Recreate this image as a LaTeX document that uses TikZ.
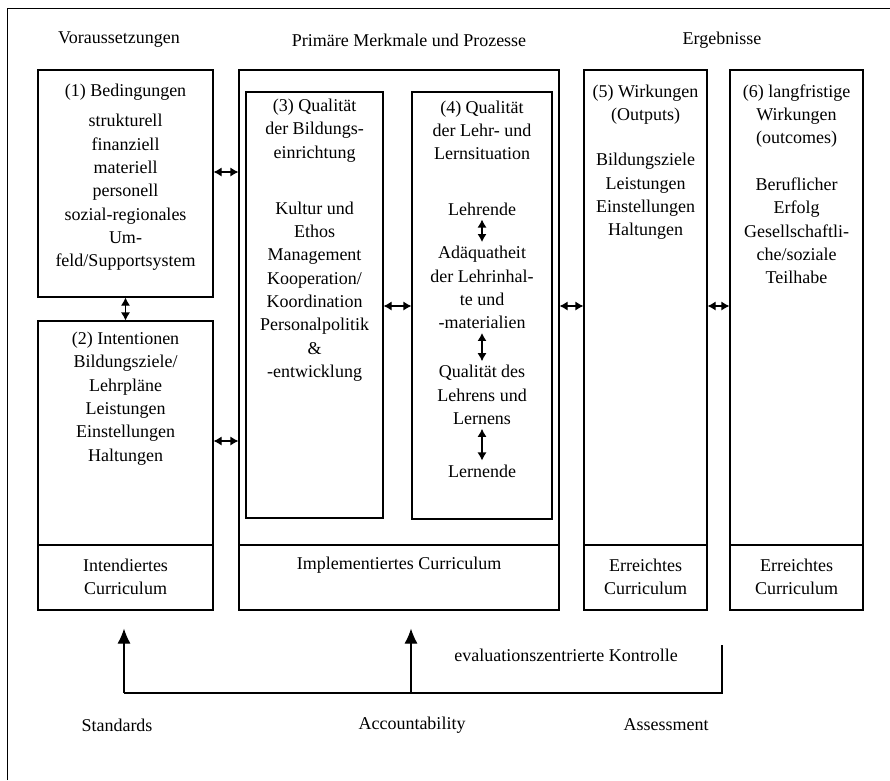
\documentclass[tikz,border=0pt]{standalone}
\usepackage{fontspec}
\setmainfont{Liberation Serif}
\usetikzlibrary{arrows.meta}
\begin{document}
\begin{tikzpicture}[x=1pt,y=-1pt,
  box/.style={draw, line width=1.1pt, inner sep=0pt},
  txt/.style={font=\fontsize{18}{23.3}\selectfont, align=center, inner sep=0pt},
  dbl/.style={{Latex[length=8pt,width=9pt]}-{Latex[length=8pt,width=9pt]}, line width=1.1pt},
  up/.style={-{Latex[length=15pt,width=13pt]}, line width=1.1pt},
  ln/.style={line width=1.1pt}]
\useasboundingbox (0,0) rectangle (890,780);
\coordinate (fa) at (7,780);
\coordinate (fb) at (7,8);
\coordinate (fc) at (890,8);
\draw[line width=1pt] (fa) -- (fb) -- (fc);

% headers
\node[txt] (h1) at (119,40) {Voraussetzungen};
\node[txt] (h2) at (409,40) {Primäre Merkmale und Prozesse};
\node[txt] (h3) at (722,40) {Ergebnisse};

% boxes
\node[box, minimum width=175pt, minimum height=227pt] (b1) at (125.5,183.5) {};
\node[box, minimum width=175pt, minimum height=289pt] (b2) at (125.5,465.5) {};
\node[box, minimum width=320pt, minimum height=540pt] (m) at (399,340) {};
\node[box, minimum width=137pt, minimum height=426pt] (b3) at (314.5,305) {};
\node[box, minimum width=140pt, minimum height=427pt] (b4) at (482,305.5) {};
\node[box, minimum width=123pt, minimum height=540pt] (b5) at (645.5,340) {};
\node[box, minimum width=133pt, minimum height=540pt] (b6) at (796.5,340) {};

% dividers
\coordinate (dv) at (0,545);
\draw[ln] (b2.west |- dv) -- (b2.east |- dv);
\draw[ln] (m.west |- dv) -- (m.east |- dv);
\draw[ln] (b5.west |- dv) -- (b5.east |- dv);
\draw[ln] (b6.west |- dv) -- (b6.east |- dv);

% box 1
\node[txt] (t1) at (125.5,92) {(1) Bedingungen};
\node[txt] (l1) at (125.5,192.5) {strukturell\\finanziell\\materiell\\personell\\sozial-regionales\\Um-\\feld/Supportsystem};

% box 2
\node[txt] (t2) at (125.5,398.5) {(2) Intentionen\\Bildungsziele/\\Lehrpläne\\Leistungen\\Einstellungen\\Haltungen};
\node[txt] (f2) at (125.5,577) {Intendiertes\\Curriculum};

% box 3
\node[txt] (t3) at (314.5,130.5) {(3) Qualität\\der Bildungs-\\einrichtung};
\node[txt] (l3) at (314.5,291.5) {Kultur und\\Ethos\\Management\\Kooperation/\\Koordination\\Personalpolitik\\\&\\-entwicklung};

% box 4
\node[txt] (t4) at (482,130.5) {(4) Qualität\\der Lehr- und\\Lernsituation};
\node[txt] (k1) at (482,209) {Lehrende};
\node[txt] (k2) at (482,287.5) {Adäquatheit\\der Lehrinhal-\\te und\hspace*{36pt}\\-materialien};
\node[txt] (k3) at (482,395) {Qualität des\\Lehrens und\\Lernens};
\node[txt] (k4) at (482,471) {Lernende};
\draw[dbl] ([yshift=-4pt]k1.south) -- ([yshift=4pt]k2.north);
\draw[dbl] ([yshift=-4pt]k2.south) -- ([yshift=4pt]k3.north);
\draw[dbl] ([yshift=-4pt]k3.south) -- ([yshift=4pt]k4.north);

\node[txt] (fm) at (399,565) {Implementiertes Curriculum};

% box 5
\node[txt] (t5) at (645.5,104.5) {(5) Wirkungen\\(Outputs)};
\node[txt] (l5) at (645.5,196.5) {Bildungsziele\\Leistungen\\Einstellungen\\Haltungen};
\node[txt] (f5) at (645.5,577) {Erreichtes\\Curriculum};

% box 6
\node[txt] (t6) at (796.5,116) {(6) langfristige\\Wirkungen\\(outcomes)};
\node[txt] (l6) at (796.5,231) {Beruflicher\\Erfolg\\Gesellschaftli-\\che/soziale\\Teilhabe};
\node[txt] (f6) at (796.5,577) {Erreichtes\\Curriculum};

% connectors between boxes
\coordinate (y1) at (0,172);
\coordinate (y2) at (0,441);
\coordinate (y3) at (0,306);
\draw[dbl] (b1.east |- y1) -- (m.west |- y1);
\draw[dbl] (b2.east |- y2) -- (m.west |- y2);
\draw[dbl] (b3.east |- y3) -- (b4.west |- y3);
\draw[dbl] (m.east |- y3) -- (b5.west |- y3);
\draw[dbl] (b5.east |- y3) -- (b6.west |- y3);
\draw[dbl] (b1.south) -- (b2.north);

% bottom
\coordinate (s) at (124,693);
\coordinate (a) at (411,693);
\coordinate (e) at (722,693);
\coordinate (et) at (722,645);
\draw[up] (s) -- ([yshift=-18pt]b2.south -| s);
\draw[up] (a) -- ([yshift=-18pt]m.south -| a);
\draw[ln] (s) -- (e) -- (et);
\node[txt] (ek) at (566,655) {evaluationszentrierte Kontrolle};
\node[txt] (st) at (117,725) {Standards};
\node[txt] (ac) at (412,725) {Accountability};
\node[txt] (as) at (666,725) {Assessment};
\end{tikzpicture}
\end{document}
